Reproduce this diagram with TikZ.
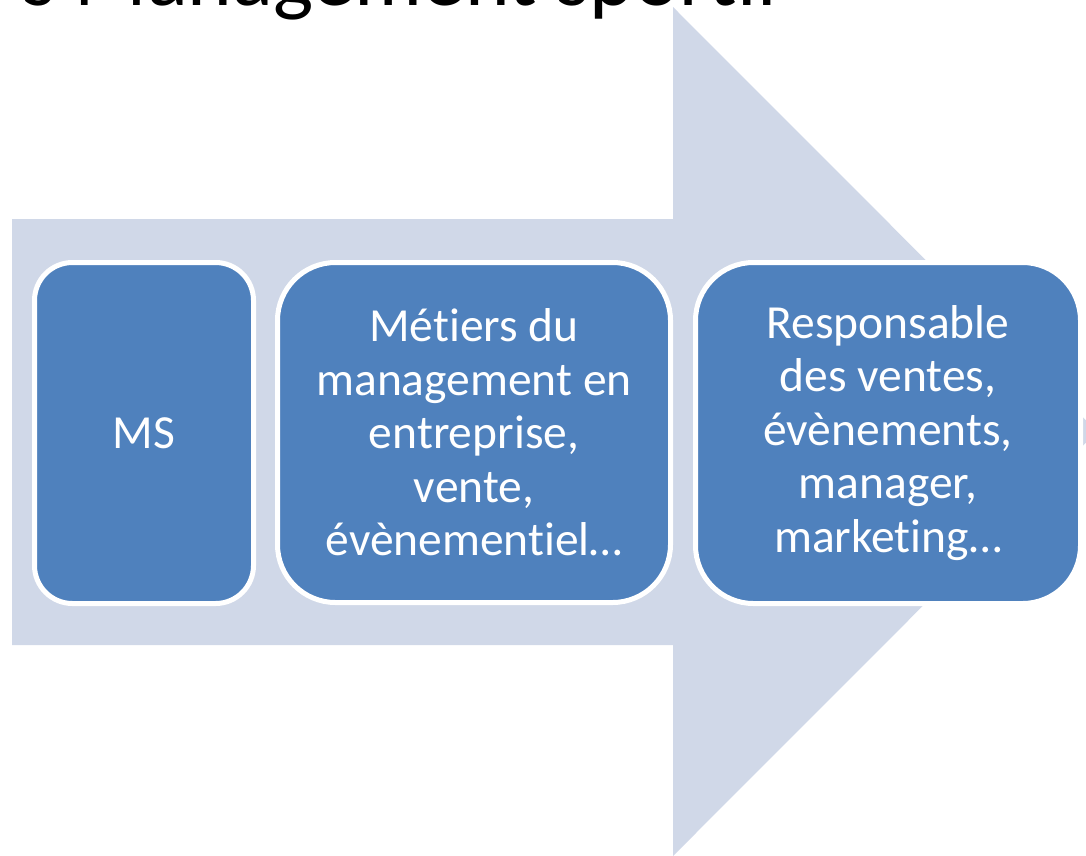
\documentclass[tikz,border=0pt]{standalone}
\usepackage{fontspec}
\setmainfont{Carlito}[Ligatures=NoCommon]
\definecolor{arrowfill}{HTML}{D0D8E8}
\definecolor{boxfill}{HTML}{4F81BD}
\begin{document}
\begin{tikzpicture}[x=1pt,y=-1pt,
  stepbox/.style={draw=white, line width=5pt, fill=boxfill, text=white,
    align=center, inner sep=0pt, font=\fontsize{47.5}{53.5}\selectfont},
  bigarrow/.style={fill=arrowfill}]
\useasboundingbox (0,0) rectangle (1086,855);
\clip (0,0) rectangle (1086,855);
\fill[bigarrow] (12,219) -- (673,219) -- (673,7) -- (1097,431.5) -- (673,856) -- (673,645) -- (12,645) -- cycle;
\node[anchor=base west, inner sep=0pt, outer sep=0pt, font=\fontsize{85}{100}\selectfont] (title) at (22,5) {s Management sportif};
\node[stepbox, rounded corners=38pt, minimum width=219pt, minimum height=341pt] (b1) at (144,433) {MS};
\node[stepbox, rounded corners=58pt, minimum width=393pt, minimum height=340pt] (b2) at (474,432.5) {Métiers du\\management en\\entreprise,\\vente,\\évènementiel…};
\node[stepbox, rounded corners=58pt, minimum width=385pt, minimum height=341pt] (b3) at (888,433) {Responsable\\des ventes,\\évènements,\\manager,\\marketing…};
\end{tikzpicture}
\end{document}
